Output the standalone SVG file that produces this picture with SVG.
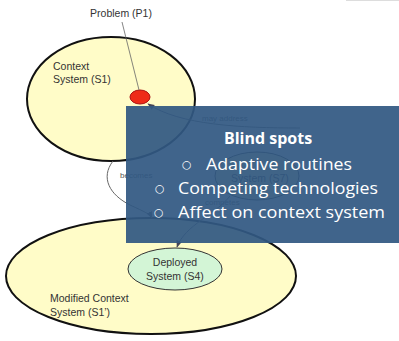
<svg xmlns="http://www.w3.org/2000/svg" width="399" height="341" viewBox="0 0 399 341">
<defs>
<style>
.lbl{font-family:"Liberation Sans",Arial,sans-serif;font-size:10.5px;fill:#333}
.small{font-family:"Liberation Sans",Arial,sans-serif;font-size:8px;fill:#555}
.ctx{fill:#fffcc8;stroke:#111;stroke-width:2}
.conn{fill:none;stroke:#666;stroke-width:1}
.bt{font-family:"Open Sans","DejaVu Sans",sans-serif;font-size:16px;fill:#fff}
.bul{font-family:"DejaVu Sans",sans-serif;font-size:11px;fill:#fff}
</style>
<marker id="ah" viewBox="0 0 10 10" refX="9" refY="5" markerWidth="7" markerHeight="7" orient="auto-start-reverse">
<path d="M0,1 L10,5 L0,9 z" fill="#445"/>
</marker>
</defs>
<rect width="399" height="341" fill="#fff"/>
<line x1="346" y1="0.5" x2="399" y2="0.5" stroke="#ddd" stroke-width="1"/>

<g id="modified-context">
<ellipse class="ctx" cx="151" cy="276" rx="145" ry="58"/>
<text class="lbl" x="50" y="302">Modified Context</text>
<text class="lbl" x="50" y="316">System (S1’)</text>
</g>
<g id="deployed">
<ellipse cx="175" cy="269" rx="47" ry="21" fill="#d3f5d6" stroke="#333" stroke-width="1"/>
<text class="lbl" x="175" y="266" text-anchor="middle">Deployed</text>
<text class="lbl" x="175" y="280" text-anchor="middle">System (S4)</text>
</g>
<g id="context">
<ellipse class="ctx" cx="111" cy="99" rx="84" ry="62"/>
<text class="lbl" x="53" y="70">Context</text>
<text class="lbl" x="53" y="83">System (S1)</text>
</g>
<g id="problem">
<text class="lbl" x="121" y="17" text-anchor="middle">Problem (P1)</text>
<ellipse cx="140" cy="97" rx="10" ry="7" fill="#ee2b18" stroke="#a11" stroke-width="1"/>
</g>
<g id="s7">
<ellipse cx="257" cy="176" rx="42" ry="24" fill="#fffcc8" stroke="#333" stroke-width="1"/>
<text class="lbl" x="260" y="182" text-anchor="middle">System (S7)</text>
</g>
<g id="connectors">
<line x1="122" y1="22" x2="139" y2="90" stroke="#666" stroke-width="0.8"/>
<path class="conn" d="M300,128 C240,128 180,125 148,104" marker-end="url(#ah)"/>
<text class="small" x="202" y="121">may address</text>
<path class="conn" d="M113,161 C100,178 110,195 130,205 C145,212 150,214 152,218" marker-end="url(#ah)"/>
<text class="small" x="120" y="178">becomes</text>
<path class="conn" d="M230,196 C215,215 185,225 177,247" marker-end="url(#ah)"/>
<text class="small" x="205" y="205">competes</text>
</g>
<g id="blind-spots">
<rect x="126" y="106" width="273" height="137" fill="#325882" fill-opacity="0.93"/>
<text class="bt" x="268" y="144" text-anchor="middle" font-weight="bold">Blind spots</text>
<text class="bul" x="182" y="168">○</text>
<text class="bt" x="206" y="170" textLength="146" lengthAdjust="spacingAndGlyphs">Adaptive routines</text>
<text class="bul" x="155" y="192">○</text>
<text class="bt" x="178" y="194" textLength="200" lengthAdjust="spacingAndGlyphs">Competing technologies</text>
<text class="bul" x="154" y="216">○</text>
<text class="bt" x="178" y="218" textLength="207" lengthAdjust="spacingAndGlyphs">Affect on context system</text>
</g>
</svg>
